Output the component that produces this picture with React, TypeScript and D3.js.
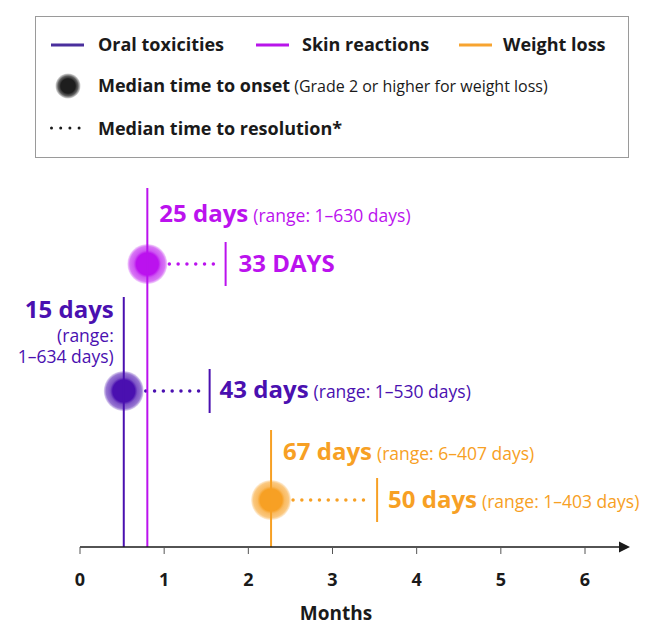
import React from "react";
import * as d3 from "d3";

const W = 654;
const H = 641;

// Data (months)
const series = ["Oral toxicities", "Skin reactions", "Weight loss"];
const colors = ["#4a10b0", "#bb12ee", "#f7a024"];
const legendColors = ["#4a2f9d", "#b815ea", "#f7a430"];
const onsetMonths = [0.52, 0.8, 2.27];
const resolutionEndMonths = [1.54, 1.73, 3.53];
const onsetLabels = ["15 days", "25 days", "67 days"];
const onsetRanges = ["(range: 1–634 days)", "(range: 1–630 days)", "(range: 6–407 days)"];
const resolutionLabels = ["43 days", "33 DAYS", "50 days"];
const resolutionRanges = ["(range: 1–530 days)", "", "(range: 1–403 days)"];
const laneOrder = ["Skin reactions", "Oral toxicities", "Weight loss"];
const xTicks = [0, 1, 2, 3, 4, 5, 6];

const FONT = "'Open Sans', sans-serif";

export default function App() {
  const x = d3.scaleLinear().domain([0, 6]).range([80, 585]);
  const y = d3.scaleOrdinal<string, number>().domain(laneOrder).range([264, 391, 500]);
  const axisY = 547;
  const lineRise = [94, 76, 70];
  const RS = 17.5;

  return (
    <svg width={W} height={H} style={{ position: "absolute", left: 0, top: 0, background: "#fff" }} fontFamily={FONT}>
      <defs>
        {colors.map((c, i) => (
          <radialGradient id={`g${i}`} key={i}>
            <stop offset="0%" stopColor={c} stopOpacity={1} />
            <stop offset="55%" stopColor={c} stopOpacity={1} />
            <stop offset="68%" stopColor={c} stopOpacity={0.72} />
            <stop offset="88%" stopColor={c} stopOpacity={0.58} />
            <stop offset="100%" stopColor={c} stopOpacity={0.15} />
          </radialGradient>
        ))}
        <radialGradient id="gLegend">
          <stop offset="0%" stopColor="#1e1e1e" />
          <stop offset="58%" stopColor="#1e1e1e" />
          <stop offset="80%" stopColor="#444" stopOpacity={0.85} />
          <stop offset="100%" stopColor="#777" stopOpacity={0.3} />
        </radialGradient>
      </defs>

      {/* Legend */}
      <rect x={35.5} y={16.5} width={593} height={141} fill="none" stroke="#9a9a9a" strokeWidth={1} />
      {[
        [51, 98],
        [256, 302],
        [459, 503],
      ].map(([lx, tx], i) => (
        <g key={i}>
          <line x1={lx} x2={lx + 33} y1={45} y2={45} stroke={legendColors[i]} strokeWidth={3} />
          <text x={tx} y={51} fontSize={18} fontWeight={700} fill="#1a1a1a">
            {series[i]}
          </text>
        </g>
      ))}
      <circle cx={68} cy={86} r={12.5} fill="url(#gLegend)" />
      <text x={98} y={92} fontSize={18} fontWeight={700} fill="#1a1a1a">
        Median time to onset
        <tspan fontWeight={400} fontSize={16} dx={4}>(Grade 2 or higher for weight loss)</tspan>
      </text>
      <line x1={51.5} x2={82} y1={128} y2={128} stroke="#1a1a1a" strokeWidth={3} strokeLinecap="round" strokeDasharray="0 9.2" />
      <text x={98} y={135} fontSize={18} fontWeight={700} fill="#1a1a1a">
        Median time to resolution*
      </text>

      {/* Series */}
      {series.map((s, i) => {
        const cx = x(onsetMonths[i]);
        const cy = y(s);
        const ex = x(resolutionEndMonths[i]);
        const top = cy - lineRise[i];
        return (
          <g key={s}>
            <circle cx={cx} cy={cy} r={20} fill={`url(#g${i})`} />
            <line x1={cx} x2={cx} y1={top} y2={axisY} stroke={colors[i]} strokeWidth={2} />
            <line x1={cx + 22} x2={ex - 6} y1={cy} y2={cy} stroke={colors[i]} strokeWidth={3.5} strokeLinecap="round" strokeDasharray="0 8.8" />
            <line x1={ex} x2={ex} y1={cy - 22} y2={cy + 22} stroke={colors[i]} strokeWidth={2} />
          </g>
        );
      })}

      {/* Oral labels (left of line) */}
      <g fill={colors[0]} textAnchor="end">
        <text x={x(onsetMonths[0]) - 10} y={318} fontSize={24} fontWeight={700}>{onsetLabels[0]}</text>
        <text x={x(onsetMonths[0]) - 10} y={342} fontSize={RS}>{onsetRanges[0].split(" ")[0]}</text>
        <text x={x(onsetMonths[0]) - 10} y={363} fontSize={RS}>{onsetRanges[0].split(" ").slice(1).join(" ")}</text>
      </g>
      <text x={x(resolutionEndMonths[0]) + 10} y={398} fill={colors[0]} fontSize={24} fontWeight={700}>
        {resolutionLabels[0]}
        <tspan fontSize={RS} fontWeight={400} dx={5}>{resolutionRanges[0]}</tspan>
      </text>

      {/* Skin labels */}
      <text x={x(onsetMonths[1]) + 12} y={222} fill={colors[1]} fontSize={24} fontWeight={700}>
        {onsetLabels[1]}
        <tspan fontSize={RS} fontWeight={400} dx={5}>{onsetRanges[1]}</tspan>
      </text>
      <text x={x(resolutionEndMonths[1]) + 13} y={272} fill={colors[1]} fontSize={24} fontWeight={700}>
        {resolutionLabels[1]}
      </text>

      {/* Weight labels */}
      <text x={x(onsetMonths[2]) + 12} y={460} fill={colors[2]} fontSize={24} fontWeight={700}>
        {onsetLabels[2]}
        <tspan fontSize={RS} fontWeight={400} dx={5}>{onsetRanges[2]}</tspan>
      </text>
      <text x={x(resolutionEndMonths[2]) + 11} y={508} fill={colors[2]} fontSize={24} fontWeight={700}>
        {resolutionLabels[2]}
        <tspan fontSize={RS} fontWeight={400} dx={5}>{resolutionRanges[2]}</tspan>
      </text>

      {/* Axis */}
      <line x1={x(0)} x2={622} y1={axisY} y2={axisY} stroke="#1a1a1a" strokeWidth={1.3} />
      <path d={`M630,${axisY} L619,${axisY - 5.5} L619,${axisY + 5.5} Z`} fill="#1a1a1a" />
      {xTicks.map((t) => (
        <g key={t}>
          <line x1={x(t)} x2={x(t)} y1={axisY} y2={axisY + 7} stroke="#555" strokeWidth={1} />
          <text x={x(t)} y={586} textAnchor="middle" fontSize={18} fontWeight={700} fill="#1a1a1a">
            {t}
          </text>
        </g>
      ))}
      <text x={336} y={620} textAnchor="middle" fontSize={19} fontWeight={700} fill="#1a1a1a">
        Months
      </text>
    </svg>
  );
}
